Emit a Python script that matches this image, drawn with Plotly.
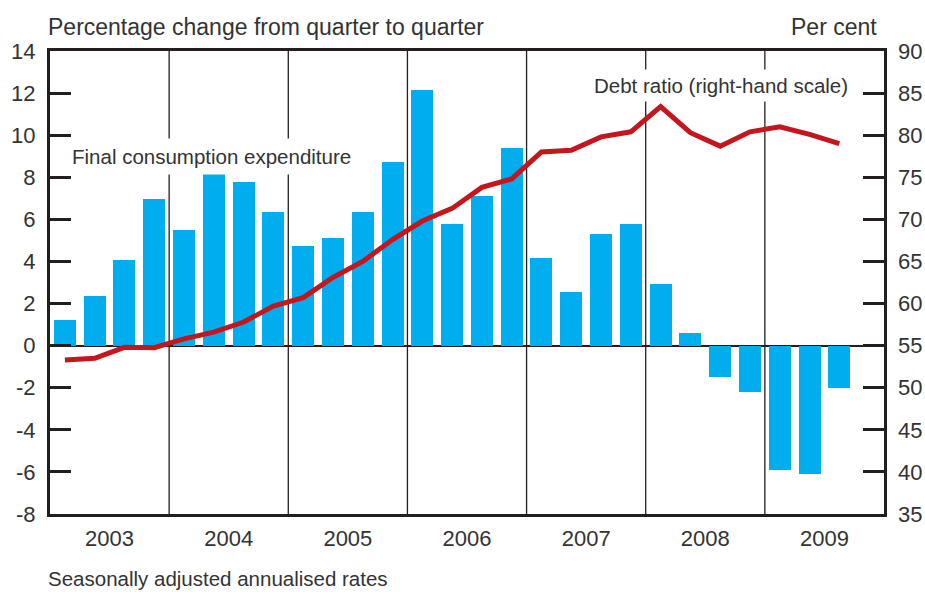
import plotly.graph_objects as go

quarters = [f"{y}Q{q}" for y in range(2003, 2010) for q in range(1, 5)][:27]
consumption = [1.2, 2.35, 4.06, 6.96, 5.49, 8.15, 7.77, 6.34, 4.72, 5.1, 6.34, 8.72,
               12.15, 5.77, 7.1, 9.39, 4.15, 2.54, 5.3, 5.77, 2.92, 0.59, -1.49, -2.2,
               -5.89, -6.11, -2.02]
debt_ratio = [53.3, 53.5, 54.8, 54.75, 55.8, 56.6, 57.8, 59.7, 60.7, 63.1, 65.0, 67.6,
              69.8, 71.3, 73.8, 74.8, 78.0, 78.2, 79.8, 80.4, 83.4, 80.3, 78.7, 80.4,
              81.0, 80.1, 79.0]
years = ["2003", "2004", "2005", "2006", "2007", "2008", "2009"]
left_ticks = [-8, -6, -4, -2, 0, 2, 4, 6, 8, 10, 12, 14]
right_ticks = [35, 40, 45, 50, 55, 60, 65, 70, 75, 80, 85, 90]

n_slots = len(years) * 4
xpos = list(range(len(quarters)))
year_centers = [i * 4 + 1.5 for i in range(len(years))]
year_bounds = [i * 4 - 0.5 for i in range(1, len(years))]

FONT = "Liberation Sans, Arial, sans-serif"
TXT = "#333333"
DARK = "#231f20"

fig = go.Figure()
fig.add_trace(go.Bar(x=xpos, y=consumption, marker=dict(color="#00aeef", line_width=0),
                     width=0.74, yaxis="y", name="Final consumption expenditure"))
fig.add_trace(go.Scatter(x=xpos, y=debt_ratio, mode="lines", yaxis="y2",
                         line=dict(color="#c4161c", width=5), name="Debt ratio"))

for b in year_bounds:
    fig.add_shape(type="line", xref="x", yref="paper", x0=b, x1=b, y0=0, y1=1,
                  line=dict(color=DARK, width=1.3), layer="below")

fig.update_layout(
    width=925, height=592,
    margin=dict(l=50, r=41, t=51, b=78, autoexpand=False),
    paper_bgcolor="white", plot_bgcolor="white",
    showlegend=False,
    font=dict(family=FONT, size=22, color=TXT),
    bargap=0,
    xaxis=dict(range=[-0.5, n_slots - 0.5], tickvals=year_centers, ticktext=years,
               ticks="", showgrid=False, zeroline=False, automargin=False,
               showline=True, mirror=True, linewidth=3, linecolor=DARK,
               ticklabelstandoff=3, tickfont=dict(size=22, color=TXT)),
    yaxis=dict(range=[-8, 14], tickvals=left_ticks, ticktext=[str(v) for v in left_ticks],
               ticks="inside", ticklen=21, automargin=False,
               tickwidth=3, tickcolor=DARK, showgrid=False,
               zeroline=True, zerolinecolor=DARK, zerolinewidth=1.5,
               showline=True, mirror=True, linewidth=3, linecolor=DARK,
               ticklabelstandoff=7, tickfont=dict(size=22, color=TXT)),
    yaxis2=dict(range=[35, 90], tickvals=right_ticks, overlaying="y", side="right",
                ticks="inside", ticklen=21, tickwidth=3, tickcolor=DARK, automargin=False,
                showgrid=False, zeroline=False, showline=False,
                ticklabelstandoff=13, tickfont=dict(size=22, color=TXT)),
    annotations=[
        dict(text="Percentage change from quarter to quarter", xref="paper", yref="paper",
             x=0, xshift=-4, y=1, yshift=24, xanchor="left", yanchor="middle",
             showarrow=False, font=dict(size=23, color=TXT)),
        dict(text="Per cent", xref="paper", yref="paper", x=1, xshift=-5, y=1, yshift=24,
             xanchor="right", yanchor="middle", showarrow=False,
             font=dict(size=23, color=TXT)),
        dict(text="Seasonally adjusted annualised rates", xref="paper", yref="paper",
             x=0, xshift=-4, y=0, yshift=-64, xanchor="left", yanchor="middle",
             showarrow=False, font=dict(size=20.5, color=TXT)),
        dict(text="Final consumption expenditure", xref="x", yref="y", x=0.0, y=9.0,
             xanchor="left", yanchor="middle", showarrow=False, bgcolor="white",
             borderpad=6, font=dict(size=20.5, color=TXT)),
        dict(text="Debt ratio (right-hand scale)", xref="x", yref="y2", x=26.45, y=85.9,
             xanchor="right", yanchor="middle", showarrow=False, bgcolor="white",
             borderpad=4, font=dict(size=20.5, color=TXT)),
    ],
)

fig.write_html("out.html", config={"displayModeBar": False},
               post_script="document.body.style.margin='0';document.body.style.overflow='hidden';")
